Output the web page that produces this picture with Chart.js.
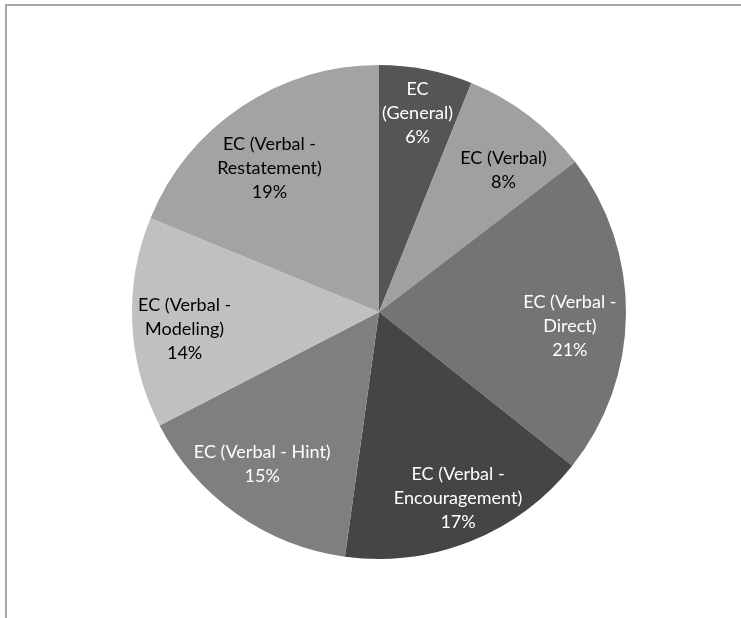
<!DOCTYPE html>
<html>
<head>
<meta charset="utf-8">
<script src="https://cdn.jsdelivr.net/npm/chart.js@4/dist/chart.umd.min.js"></script>
<style>
  html, body { margin: 0; padding: 0; background: #fff; }
  #wrap { position: relative; width: 741px; height: 618px; overflow: hidden; }
  #frame { position: absolute; left: 5px; top: 4px; width: 800px; height: 700px;
           border-top: 2px solid #a6a6a6; border-left: 2px solid #a6a6a6; box-sizing: border-box; }
  canvas { position: absolute; left: 0; top: 0; }
</style>
</head>
<body>
<div id="wrap">
  <div id="frame"></div>
  <canvas id="c" width="741" height="618"></canvas>
</div>
<script>
// Data
const categories = [
  "EC (General)",
  "EC (Verbal)",
  "EC (Verbal - Direct)",
  "EC (Verbal - Encouragement)",
  "EC (Verbal - Hint)",
  "EC (Verbal - Modeling)",
  "EC (Verbal - Restatement)"
];
const shares = [6.1, 8.5, 21.1, 16.5, 15.2, 13.8, 18.8];
const percentLabels = ["6%", "8%", "21%", "17%", "15%", "14%", "19%"];
const labelLines = [
  ["EC", "(General)"],
  ["EC (Verbal)"],
  ["EC (Verbal -", "Direct)"],
  ["EC (Verbal -", "Encouragement)"],
  ["EC (Verbal - Hint)"],
  ["EC (Verbal -", "Modeling)"],
  ["EC (Verbal -", "Restatement)"]
];

const sliceColors = ["#555555", "#a0a0a0", "#747474", "#454545", "#7f7f7f", "#c0c0c0", "#a3a3a3"];
const textColors  = ["#ffffff", "#000000", "#ffffff", "#ffffff", "#ffffff", "#000000", "#000000"];
// label anchor: radial fraction and position within the slice's angular span
const labelRadius = [0.82, 0.765, 0.775, 0.82, 0.777, 0.79, 0.733];
const labelSpanPos = [0.5, 0.63, 0.55, 0.48, 0.54, 0.45, 0.45];

const labelPlugin = {
  id: 'sliceLabels',
  afterDatasetsDraw(chart) {
    const ctx = chart.ctx;
    const meta = chart.getDatasetMeta(0);
    ctx.save();
    ctx.font = '18px Lato, "Liberation Sans", sans-serif';
    ctx.textAlign = 'center';
    ctx.textBaseline = 'middle';
    const lh = 24;
    meta.data.forEach((arc, i) => {
      const p = arc.getProps(['x', 'y', 'startAngle', 'endAngle', 'outerRadius'], true);
      const a = p.startAngle + (p.endAngle - p.startAngle) * labelSpanPos[i];
      const r = p.outerRadius * labelRadius[i];
      const cx = p.x + Math.cos(a) * r;
      const cy = p.y + Math.sin(a) * r;
      const lines = labelLines[i].concat([percentLabels[i]]);
      const y0 = cy - (lines.length - 1) * lh / 2;
      ctx.fillStyle = textColors[i];
      lines.forEach((t, k) => ctx.fillText(t, cx, y0 + k * lh));
    });
    ctx.restore();
  }
};

new Chart(document.getElementById('c'), {
  type: 'pie',
  data: {
    labels: categories,
    datasets: [{
      data: shares,
      backgroundColor: sliceColors,
      borderWidth: 0
    }]
  },
  options: {
    responsive: false,
    animation: false,
    layout: { padding: { top: 65, bottom: 59, left: 132, right: 115 } },
    plugins: {
      legend: { display: false },
      tooltip: { enabled: false }
    }
  },
  plugins: [labelPlugin]
});
</script>
</body>
</html>
